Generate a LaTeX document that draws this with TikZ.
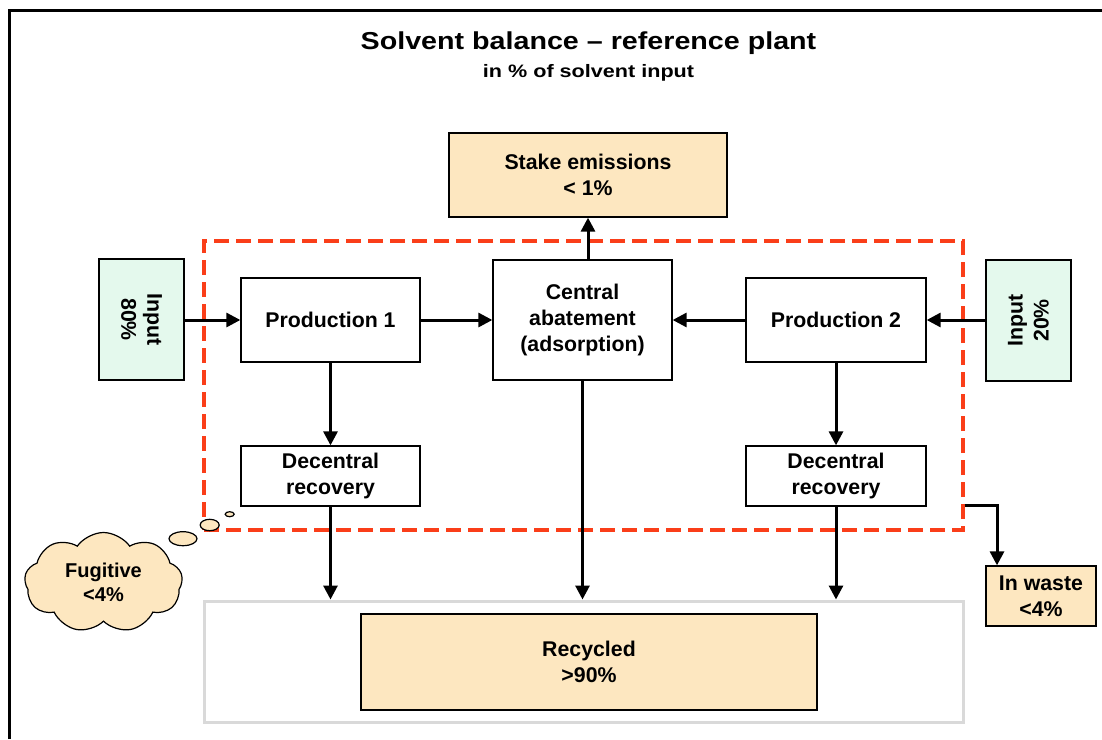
\documentclass[tikz,border=0pt]{standalone}
\usepackage{fontspec}
\setmainfont{Liberation Sans}
\usetikzlibrary{arrows.meta,shapes.symbols,shapes.geometric}
\definecolor{boxorange}{RGB}{253,231,192}
\definecolor{boxgreen}{RGB}{228,249,237}
\definecolor{dashred}{RGB}{250,62,25}
\definecolor{framegray}{RGB}{217,217,217}
\begin{document}
\begin{tikzpicture}[x=1pt,y=-1pt,
  txt/.style={font=\bfseries\fontsize{21.3}{26}\selectfont, align=center},
  plainbox/.style={txt, draw=black, line width=1.3pt, fill=white, inner sep=0pt},
  orangebox/.style={txt, draw=black, line width=1.3pt, fill=boxorange, inner sep=0pt},
  greenbox/.style={draw=black, line width=1.3pt, fill=boxgreen, inner sep=0pt},
  arr/.style={line width=3pt, -{Triangle[length=14pt,width=14pt]}},
  bubble/.style={draw=black, line width=1.2pt, fill=boxorange, ellipse, inner sep=0pt}
]
\useasboundingbox (0,0) rectangle (1102,739);
% outer frame (clipped by page)
\draw[line width=3pt] (9.5,739) -- (9.5,10.5) -- (1102,10.5);

% title
\node (title) at (588.5,43) {\bfseries\fontsize{24.5}{29}\selectfont\scalebox{1.17}[1]{Solvent balance -- reference plant}};
\node (subtitle) at (588.5,73) {\bfseries\fontsize{18}{22}\selectfont\scalebox{1.2}[1]{in \% of solvent input}};

% plant boundary (dashed)
\node[draw=dashred, line width=3.3pt, dash pattern=on 15pt off 7pt, minimum width=759pt, minimum height=289pt, inner sep=0pt] (plant) at (583.5,385.5) {};

% recycled outer frame
\node[draw=framegray, line width=3pt, fill=white, minimum width=759pt, minimum height=121pt, inner sep=0pt] (recout) at (583.5,661.5) {};
\node[orangebox, minimum width=456pt, minimum height=96pt] (rec) at (589,662) {Recycled\\>90\%};

% boxes
\node[orangebox, minimum width=278pt, minimum height=84pt] (stake) at (588,175) {Stake emissions\\< 1\%};
\node[plainbox, minimum width=179pt, minimum height=84pt] (prod1) at (330.5,320) {Production 1};
\node[plainbox, minimum width=179pt, minimum height=120pt] (central) at (582.5,320) {Central\\abatement\\(adsorption)};
\node[plainbox, minimum width=180pt, minimum height=84pt] (prod2) at (836,320) {Production 2};
\node[plainbox, minimum width=179pt, minimum height=60pt] (dec1) at (330.5,476) {Decentral\\recovery};
\node[plainbox, minimum width=180pt, minimum height=60pt] (dec2) at (836,476) {Decentral\\recovery};

% inputs
\node[greenbox, minimum width=85pt, minimum height=121pt] (in80) at (141.5,319.5) {};
\node[txt, rotate=-90] (in80t) at (in80.center) {Input\\80\%};
\node[greenbox, minimum width=85pt, minimum height=121pt] (in20) at (1028.5,320.5) {};
\node[txt, rotate=90] (in20t) at (in20.center) {Input\\20\%};

% waste
\node[orangebox, minimum width=110pt, minimum height=60pt] (waste) at (1041,596) {In waste\\<4\%};

% fugitive cloud and bubbles
\node[draw=black, line width=1.2pt, fill=boxorange, cloud, cloud puffs=9, cloud puff arc=110, aspect=1.55, minimum width=158pt, minimum height=100pt, inner sep=0pt, txt, font=\bfseries\fontsize{20}{24}\selectfont] (fug) at (103.5,582.5) {Fugitive\\<4\%};
\node[bubble, minimum width=28pt, minimum height=14pt] (b1) at (183,538.7) {};
\node[bubble, minimum width=19pt, minimum height=11.4pt] (b2) at (209.7,525) {};
\node[bubble, minimum width=9pt, minimum height=5pt] (b3) at (229.7,514.2) {};

% connectors
\draw[arr] (in80.east |- prod1.west) -- (prod1.west);
\draw[arr] (prod1.east) -- (central.west);
\draw[arr] (prod2.west) -- (central.east);
\draw[arr] (in20.west |- prod2.east) -- (prod2.east);
\draw[arr] (central.north -| stake.south) -- (stake.south);
\draw[arr] (prod1.south) -- (dec1.north);
\draw[arr] (prod2.south) -- (dec2.north);
\draw[arr] (dec1.south) -- (dec1.south |- recout.north);
\draw[arr] (central.south) -- (central.south |- recout.north);
\draw[arr] (dec2.south) -- (dec2.south |- recout.north);
\coordinate (wbend) at (997,505.5);
\draw[arr] (plant.east |- wbend) -- (wbend) -- (wbend |- waste.north);
\end{tikzpicture}
\end{document}
